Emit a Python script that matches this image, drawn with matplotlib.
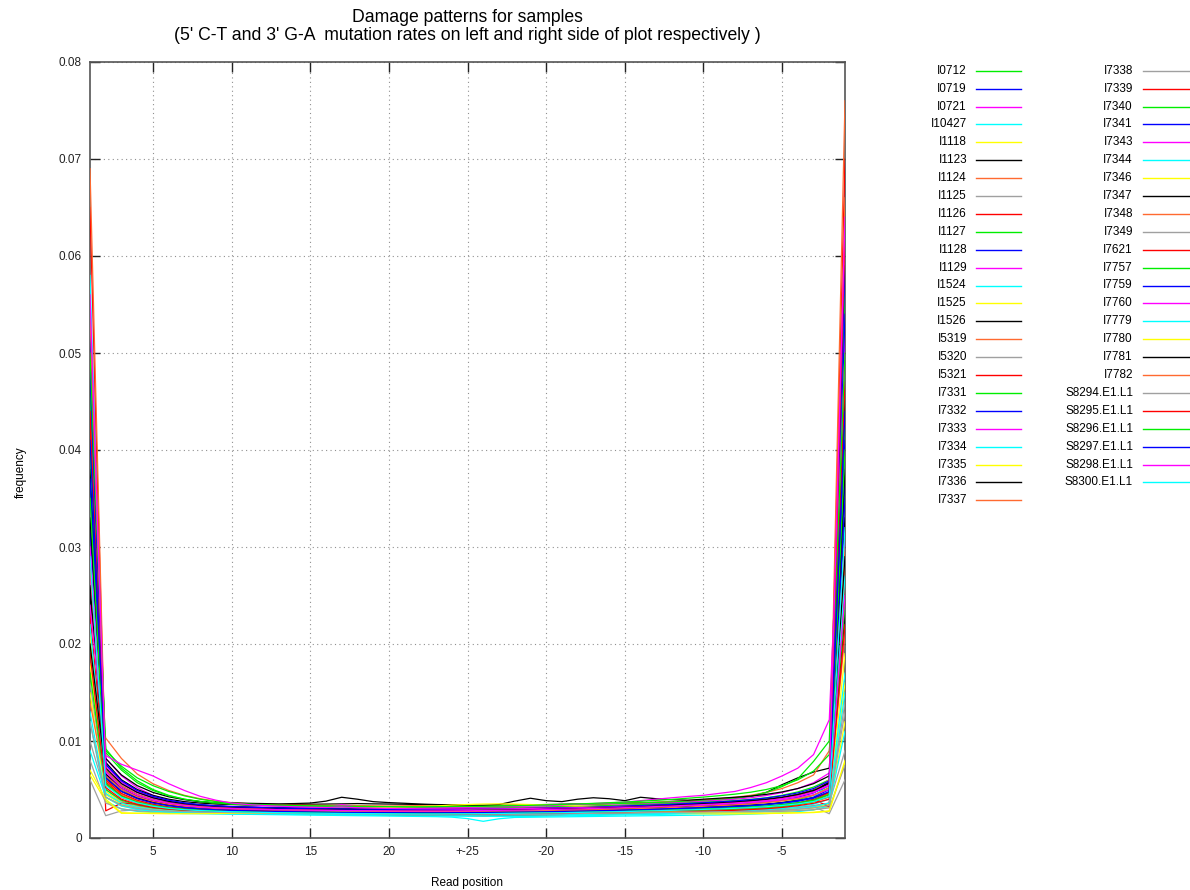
import numpy as np
import matplotlib.pyplot as plt
from matplotlib.lines import Line2D

plt.rcParams['font.family'] = ['Liberation Sans', 'DejaVu Sans']

# frequencies in units of 1e-5
# read positions 1..24 from the 5' end, 25, then -24..-1 from the 3' end
I0712 = [3600, 640, 500, 420, 370, 340, 320, 305, 300,
         298, 295, 290, 292, 288, 290, 286, 291, 289, 287,
         290, 288, 285, 290, 292, 288, 286, 289, 291, 287,
         290, 293, 289, 292, 295, 298, 296, 300, 302, 305, 308,
         315, 322, 330, 345, 365, 395, 440, 520, 4800]
I0719 = [2900, 560, 430, 370, 330, 310, 295, 288, 282,
         280, 278, 276, 279, 275, 277, 274, 278, 276, 273,
         275, 277, 272, 274, 276, 278, 275, 273, 277, 279,
         276, 280, 278, 282, 280, 284, 286, 288, 290, 292, 295,
         300, 305, 312, 325, 340, 360, 390, 450, 3700]
I0721 = [4200, 820, 640, 520, 440, 390, 360, 340, 330,
         325, 322, 318, 320, 316, 318, 322, 330, 318, 315,
         312, 316, 318, 320, 322, 325, 328, 332, 335, 338,
         342, 345, 348, 350, 352, 355, 358, 360, 362, 365, 368,
         372, 378, 386, 398, 415, 440, 480, 560, 5200]
I10427 = [5800, 700, 520, 430, 380, 345, 325, 310, 300,
          296, 292, 288, 285, 282, 280, 278, 275, 272, 270,
          268, 270, 265, 262, 260, 258, 262, 265, 260, 258,
          262, 265, 268, 270, 272, 275, 278, 280, 284, 288, 292,
          298, 305, 312, 325, 345, 375, 420, 560, 6200]
I1118 = [1500, 420, 330, 300, 285, 278, 272, 270, 268,
         270, 268, 272, 269, 271, 274, 276, 278, 280, 282,
         285, 288, 290, 292, 295, 296, 295, 293, 292, 290,
         288, 286, 284, 282, 280, 278, 276, 274, 272, 270, 268,
         268, 268, 270, 272, 275, 280, 290, 320, 1200]
I1123 = [2500, 780, 600, 500, 440, 400, 375, 360, 350,
         345, 340, 338, 342, 345, 348, 350, 352, 355, 352,
         350, 348, 345, 342, 340, 338, 335, 338, 340, 342,
         345, 348, 350, 352, 356, 360, 364, 368, 372, 378, 385,
         395, 410, 430, 470, 550, 620, 680, 720, 3300]
I1124 = [2000, 1030, 820, 660, 560, 490, 440, 405, 380,
         365, 355, 348, 345, 340, 338, 336, 338, 335, 332,
         330, 332, 334, 330, 328, 326, 330, 332, 335, 338,
         340, 342, 345, 348, 352, 356, 362, 368, 375, 385, 395,
         405, 420, 440, 470, 510, 570, 650, 900, 2800]
I1125 = [1000, 450, 360, 320, 300, 290, 285, 280, 278,
         276, 275, 273, 272, 270, 268, 270, 272, 271, 269,
         267, 265, 268, 270, 272, 274, 272, 270, 268, 266,
         265, 267, 269, 271, 273, 275, 277, 279, 281, 283, 285,
         288, 291, 295, 300, 308, 318, 335, 360, 900]
I1126 = [6500, 560, 420, 360, 325, 305, 290, 280, 275,
         272, 270, 268, 265, 262, 260, 258, 262, 264, 260,
         256, 254, 258, 262, 266, 270, 268, 265, 262, 260,
         262, 265, 268, 270, 272, 274, 276, 278, 280, 283, 286,
         290, 295, 302, 312, 328, 350, 385, 450, 7000]
I1127 = [4600, 920, 720, 590, 500, 440, 400, 375, 360,
         352, 345, 340, 336, 332, 330, 328, 326, 325, 324,
         322, 320, 322, 324, 326, 328, 330, 332, 334, 336,
         340, 343, 346, 350, 354, 358, 362, 366, 372, 378, 385,
         395, 410, 430, 470, 530, 610, 790, 1000, 5600]
I1128 = [3200, 640, 500, 420, 370, 340, 320, 308, 300,
         295, 292, 290, 288, 285, 284, 282, 280, 279, 278,
         280, 282, 284, 280, 278, 276, 278, 280, 283, 286,
         288, 290, 293, 296, 300, 304, 308, 312, 318, 324, 330,
         338, 346, 356, 370, 390, 420, 465, 540, 3500]
I1129 = [2700, 700, 560, 470, 410, 370, 345, 330, 320,
         315, 312, 310, 308, 306, 305, 308, 345, 318, 312,
         322, 315, 312, 310, 308, 306, 308, 310, 312, 315,
         318, 322, 326, 330, 335, 340, 346, 352, 360, 368, 378,
         388, 400, 415, 438, 468, 510, 570, 670, 3100]
I1524 = [900, 420, 340, 300, 280, 268, 260, 255, 252,
         250, 248, 246, 245, 243, 242, 240, 238, 236, 235,
         233, 232, 230, 228, 226, 225, 224, 222, 220, 222,
         225, 228, 230, 232, 235, 238, 240, 243, 246, 250, 254,
         258, 262, 268, 275, 285, 298, 315, 340, 1100]
I1525 = [1800, 480, 370, 325, 300, 288, 280, 275, 272,
         270, 272, 274, 276, 278, 280, 282, 284, 286, 288,
         290, 292, 294, 296, 298, 300, 302, 300, 298, 296,
         294, 292, 290, 288, 286, 284, 282, 280, 278, 276, 275,
         275, 276, 278, 282, 288, 296, 310, 335, 1600]
I1526 = [3800, 820, 650, 540, 470, 425, 395, 375, 362,
         362, 358, 355, 352, 355, 360, 380, 420, 400, 375,
         365, 358, 350, 345, 342, 340, 338, 345, 380, 410,
         385, 375, 400, 415, 405, 385, 420, 405, 395, 390, 400,
         410, 420, 432, 450, 475, 510, 560, 640, 4500]
I5319 = [1400, 560, 420, 360, 325, 305, 292, 285, 280,
         276, 274, 272, 270, 268, 266, 265, 264, 262, 260,
         258, 256, 255, 254, 252, 250, 252, 254, 256, 258,
         260, 262, 264, 266, 268, 270, 272, 275, 278, 282, 286,
         290, 295, 302, 312, 326, 345, 372, 420, 2100]
I5320 = [600, 230, 280, 290, 288, 285, 282, 280, 278,
         276, 274, 272, 270, 268, 266, 264, 262, 260, 258,
         256, 255, 254, 256, 258, 260, 262, 264, 266, 268,
         270, 272, 274, 276, 278, 280, 282, 284, 286, 288, 290,
         292, 295, 298, 302, 308, 316, 326, 250, 600]
I5321 = [2300, 580, 440, 375, 335, 310, 295, 285, 278,
         272, 268, 265, 262, 260, 258, 256, 254, 252, 250,
         248, 246, 245, 244, 243, 242, 244, 246, 248, 250,
         252, 254, 256, 258, 260, 262, 264, 266, 268, 270, 272,
         275, 278, 282, 288, 296, 308, 325, 355, 2600]
I7331 = [4000, 880, 700, 570, 490, 435, 400, 378, 362,
         350, 342, 336, 332, 328, 325, 322, 320, 318, 316,
         315, 314, 313, 312, 311, 310, 312, 314, 316, 318,
         320, 323, 326, 330, 334, 338, 343, 348, 354, 360, 368,
         376, 386, 398, 415, 440, 475, 525, 600, 4300]
I7332 = [5200, 760, 580, 480, 420, 380, 355, 340, 330,
         322, 318, 315, 312, 310, 308, 306, 304, 302, 300,
         298, 296, 295, 294, 293, 292, 294, 296, 298, 300,
         302, 304, 306, 309, 312, 316, 320, 325, 330, 336, 342,
         350, 360, 372, 388, 410, 440, 485, 580, 5900]
I7333 = [3400, 740, 580, 480, 420, 380, 355, 338, 326,
         318, 312, 308, 305, 302, 300, 298, 296, 294, 292,
         290, 292, 294, 296, 298, 300, 302, 304, 306, 308,
         310, 313, 316, 320, 324, 328, 333, 338, 344, 350, 357,
         364, 372, 382, 396, 415, 440, 475, 540, 3900]
I7334 = [1200, 380, 300, 275, 262, 256, 252, 250, 248,
         246, 244, 242, 240, 238, 236, 234, 232, 230, 228,
         226, 224, 222, 220, 215, 200, 172, 198, 212, 214,
         216, 218, 220, 222, 224, 226, 228, 230, 232, 234, 236,
         238, 242, 246, 252, 260, 272, 290, 330, 1500]
I7335 = [2100, 450, 350, 310, 292, 282, 276, 272, 270,
         268, 270, 275, 280, 285, 290, 295, 300, 305, 310,
         315, 320, 325, 330, 340, 345, 350, 352, 350, 345,
         340, 335, 330, 325, 320, 315, 310, 305, 300, 296, 292,
         290, 290, 292, 295, 300, 308, 320, 345, 1900]
I7336 = [2600, 620, 480, 410, 370, 345, 330, 320, 312,
         306, 302, 298, 295, 292, 290, 288, 286, 284, 283,
         282, 281, 280, 280, 281, 282, 284, 286, 288, 290,
         292, 294, 296, 298, 300, 303, 306, 310, 314, 318, 322,
         327, 333, 340, 350, 365, 385, 415, 470, 2300]
I7337 = [6900, 600, 450, 380, 340, 315, 300, 290, 284,
         280, 276, 272, 270, 268, 266, 264, 262, 260, 258,
         256, 255, 254, 253, 252, 251, 252, 253, 254, 256,
         258, 260, 262, 264, 266, 268, 270, 273, 276, 280, 284,
         288, 293, 300, 310, 325, 345, 380, 460, 7600]
I7338 = [1600, 500, 380, 330, 305, 292, 285, 280, 276,
         274, 272, 270, 268, 266, 265, 264, 263, 262, 261,
         260, 259, 258, 257, 256, 255, 256, 257, 258, 259,
         260, 262, 264, 266, 268, 270, 272, 274, 276, 278, 280,
         283, 286, 290, 296, 304, 315, 330, 360, 1300]
I7339 = [4400, 280, 360, 350, 330, 315, 305, 298, 292,
         288, 285, 282, 280, 278, 276, 274, 272, 270, 268,
         266, 265, 264, 263, 262, 262, 263, 264, 265, 266,
         268, 270, 272, 274, 276, 278, 280, 283, 286, 290, 294,
         298, 303, 310, 320, 335, 355, 400, 320, 4700]
I7340 = [1700, 500, 390, 340, 312, 296, 286, 280, 276,
         272, 270, 268, 266, 265, 264, 263, 262, 261, 260,
         259, 258, 257, 256, 255, 255, 256, 257, 258, 260,
         262, 264, 266, 268, 270, 272, 275, 278, 281, 284, 288,
         292, 297, 303, 312, 325, 345, 375, 430, 2400]
I7341 = [4800, 700, 540, 450, 395, 360, 338, 322, 312,
         305, 300, 296, 293, 290, 288, 286, 284, 282, 280,
         279, 278, 277, 276, 275, 275, 276, 277, 278, 280,
         282, 284, 286, 288, 291, 294, 297, 300, 304, 308, 313,
         318, 325, 334, 346, 362, 385, 420, 500, 5400]
I7343 = [3000, 660, 520, 440, 390, 358, 338, 325, 316,
         310, 306, 303, 300, 298, 297, 296, 298, 300, 302,
         304, 306, 308, 310, 313, 316, 319, 322, 326, 330,
         334, 340, 348, 355, 362, 370, 385, 400, 415, 428, 440,
         460, 480, 520, 570, 640, 720, 860, 1220, 5000]
I7344 = [2200, 460, 360, 315, 292, 278, 270, 264, 260,
         256, 253, 250, 248, 246, 244, 242, 240, 238, 236,
         234, 232, 230, 229, 228, 228, 229, 230, 232, 234,
         236, 238, 240, 243, 246, 249, 252, 256, 260, 264, 268,
         272, 277, 283, 292, 305, 322, 348, 400, 2700]
I7346 = [650, 380, 255, 255, 258, 260, 260, 258, 256,
         255, 256, 258, 260, 262, 264, 266, 268, 270, 272,
         274, 276, 278, 280, 282, 280, 278, 276, 274, 272,
         270, 268, 266, 264, 262, 260, 258, 256, 254, 252, 250,
         248, 248, 250, 252, 255, 260, 262, 275, 780]
I7347 = [3300, 720, 560, 470, 415, 378, 355, 340, 330,
         322, 316, 312, 308, 305, 303, 301, 300, 299, 298,
         297, 296, 296, 296, 297, 298, 299, 300, 302, 304,
         306, 309, 312, 316, 320, 325, 330, 336, 342, 349, 356,
         364, 373, 385, 400, 420, 450, 495, 570, 3800]
I7348 = [2800, 640, 500, 425, 378, 348, 328, 315, 306,
         300, 296, 292, 289, 286, 284, 282, 280, 278, 277,
         276, 275, 274, 274, 275, 276, 278, 280, 282, 285,
         288, 291, 295, 299, 304, 309, 315, 321, 328, 336, 344,
         352, 362, 375, 392, 415, 445, 490, 600, 3000]
I7349 = [800, 360, 300, 280, 272, 268, 265, 263, 262,
         261, 260, 259, 258, 257, 256, 255, 254, 253, 252,
         251, 250, 249, 248, 247, 246, 247, 248, 249, 250,
         251, 252, 253, 254, 255, 256, 257, 258, 259, 260, 261,
         262, 264, 266, 270, 275, 282, 292, 310, 750]
I7621 = [1900, 520, 400, 345, 315, 298, 287, 280, 275,
         270, 266, 262, 258, 255, 252, 250, 248, 246, 244,
         242, 240, 238, 236, 234, 233, 232, 234, 236, 238,
         240, 242, 245, 248, 251, 254, 258, 262, 266, 270, 275,
         280, 286, 293, 302, 315, 333, 358, 400, 2200]
I7757 = [5000, 900, 740, 620, 540, 480, 435, 400, 375,
         360, 350, 343, 338, 334, 331, 329, 327, 325, 324,
         323, 322, 322, 323, 324, 325, 327, 330, 333, 337,
         341, 346, 351, 357, 364, 371, 379, 388, 398, 410, 422,
         436, 452, 472, 500, 540, 600, 690, 860, 5000]
I7759 = [3700, 760, 590, 490, 430, 390, 362, 344, 332,
         324, 318, 313, 309, 306, 303, 301, 299, 297, 296,
         295, 294, 293, 293, 294, 295, 297, 299, 301, 304,
         307, 310, 314, 318, 323, 328, 334, 340, 347, 355, 363,
         372, 382, 395, 412, 435, 465, 510, 590, 4100]
I7760 = [2400, 850, 760, 700, 640, 560, 490, 430, 390,
         360, 345, 335, 328, 322, 318, 315, 320, 312, 308,
         305, 303, 301, 300, 299, 298, 299, 300, 302, 304,
         306, 308, 311, 314, 317, 320, 324, 328, 332, 337, 342,
         348, 355, 364, 376, 392, 414, 447, 500, 2500]
I7779 = [1300, 420, 330, 295, 278, 268, 262, 258, 255,
         252, 250, 248, 246, 245, 244, 243, 242, 241, 240,
         239, 238, 237, 236, 235, 234, 235, 236, 237, 238,
         239, 240, 242, 244, 246, 248, 250, 252, 255, 258, 261,
         264, 268, 273, 280, 290, 303, 322, 360, 1700]
I7780 = [700, 400, 260, 255, 252, 250, 250, 251, 252,
         254, 256, 258, 260, 262, 264, 266, 268, 270, 272,
         274, 276, 278, 280, 282, 284, 285, 286, 285, 284,
         282, 280, 278, 276, 274, 272, 270, 268, 266, 264, 262,
         260, 258, 256, 256, 257, 260, 265, 280, 800]
I7781 = [2000, 660, 520, 440, 390, 360, 340, 326, 316,
         308, 302, 298, 294, 291, 289, 287, 285, 284, 283,
         282, 281, 281, 281, 282, 283, 285, 287, 289, 292,
         295, 298, 302, 306, 311, 316, 322, 328, 335, 342, 350,
         358, 368, 380, 396, 418, 448, 490, 560, 2900]
I7782 = [5400, 700, 540, 450, 395, 360, 338, 322, 312,
         305, 300, 296, 292, 289, 286, 284, 282, 280, 278,
         276, 275, 274, 273, 272, 272, 273, 274, 276, 278,
         280, 283, 286, 290, 294, 298, 303, 308, 314, 320, 327,
         334, 342, 352, 365, 382, 405, 440, 520, 6600]
S8294_E1_L1 = [1200, 420, 340, 305, 288, 278, 272, 268, 265,
               262, 260, 258, 256, 254, 252, 251, 250, 249, 248,
               247, 246, 245, 244, 243, 242, 243, 244, 245, 246,
               248, 250, 252, 254, 256, 258, 260, 262, 264, 266, 268,
               270, 272, 275, 280, 287, 296, 310, 335, 1400]
S8295_E1_L1 = [4300, 600, 460, 390, 348, 320, 302, 290, 282,
               276, 272, 268, 266, 264, 262, 260, 258, 256, 255,
               254, 253, 252, 251, 250, 250, 251, 252, 254, 256,
               258, 260, 263, 266, 269, 272, 276, 280, 284, 289, 294,
               299, 305, 313, 324, 340, 362, 395, 470, 6200]
S8296_E1_L1 = [3500, 560, 430, 370, 335, 312, 298, 288, 281,
               276, 272, 269, 266, 264, 262, 260, 259, 258, 257,
               256, 255, 255, 255, 256, 257, 258, 260, 262, 264,
               266, 268, 271, 274, 277, 280, 284, 288, 292, 297, 302,
               307, 313, 320, 330, 344, 363, 390, 450, 4000]
S8297_E1_L1 = [4100, 620, 480, 405, 360, 332, 313, 300, 291,
               285, 281, 277, 274, 271, 269, 267, 265, 264, 263,
               262, 261, 260, 260, 261, 262, 263, 265, 267, 269,
               271, 274, 277, 280, 284, 288, 292, 297, 302, 307, 313,
               319, 326, 334, 345, 360, 380, 410, 480, 4400]
S8298_E1_L1 = [5600, 680, 520, 440, 390, 358, 336, 321, 311,
               304, 299, 295, 292, 289, 287, 285, 283, 282, 281,
               280, 279, 279, 279, 280, 281, 283, 285, 287, 290,
               293, 296, 300, 304, 308, 313, 318, 324, 330, 337, 344,
               352, 361, 372, 386, 405, 430, 468, 550, 6400]
S8300_E1_L1 = [2900, 540, 420, 362, 328, 306, 292, 283, 276,
               271, 267, 264, 261, 259, 257, 255, 253, 252, 251,
               250, 249, 248, 248, 249, 250, 251, 253, 255, 257,
               259, 261, 264, 267, 270, 273, 277, 281, 285, 290, 295,
               300, 306, 313, 322, 335, 352, 376, 430, 3200]

samples = ["I0712", "I0719", "I0721", "I10427", "I1118", "I1123", "I1124",
           "I1125", "I1126", "I1127", "I1128", "I1129", "I1524", "I1525",
           "I1526", "I5319", "I5320", "I5321", "I7331", "I7332", "I7333",
           "I7334", "I7335", "I7336", "I7337", "I7338", "I7339", "I7340",
           "I7341", "I7343", "I7344", "I7346", "I7347", "I7348", "I7349",
           "I7621", "I7757", "I7759", "I7760", "I7779", "I7780", "I7781",
           "I7782", "S8294.E1.L1", "S8295.E1.L1", "S8296.E1.L1",
           "S8297.E1.L1", "S8298.E1.L1", "S8300.E1.L1"]
series = [I0712, I0719, I0721, I10427, I1118, I1123, I1124, I1125, I1126,
          I1127, I1128, I1129, I1524, I1525, I1526, I5319, I5320, I5321,
          I7331, I7332, I7333, I7334, I7335, I7336, I7337, I7338, I7339,
          I7340, I7341, I7343, I7344, I7346, I7347, I7348, I7349, I7621,
          I7757, I7759, I7760, I7779, I7780, I7781, I7782, S8294_E1_L1,
          S8295_E1_L1, S8296_E1_L1, S8297_E1_L1, S8298_E1_L1, S8300_E1_L1]

tick_pos = [5, 10, 15, 20, 25, 30, 35, 40, 45]
tick_labels = ["5", "10", "15", "20", "+-25", "-20", "-15", "-10", "-5"]

palette = ["#00ee00", "#0000ff", "#ff00ff", "#00ffff", "#ffff00",
           "#000000", "#ff6a30", "#a0a0a0", "#ff0000"]

fig = plt.figure(figsize=(11.9, 8.9), dpi=100)
ax = fig.add_axes([90 / 1190, 52 / 890, 755 / 1190, 776 / 890])

for i, vals in enumerate(series):
    y = np.array(vals) * 1e-5
    x = np.arange(1, len(y) + 1)
    ax.plot(x, y, color=palette[i % len(palette)], lw=0.9, zorder=3)

ax.set_xlim(1, 49)
ax.set_ylim(0, 0.08)
ax.set_xticks(tick_pos)
ax.set_xticklabels(tick_labels)
ax.set_yticks(np.arange(0, 0.081, 0.01))
ax.set_yticklabels(["0"] + ["%.2f" % v for v in np.arange(0.01, 0.081, 0.01)])
ax.grid(True, ls=(0, (1, 3)), color="#909090", lw=0.8)
ax.tick_params(direction="in", length=7, width=1.0, top=True, right=True,
               labelsize=8.5, pad=6, colors="#222222")
for s in ax.spines.values():
    s.set_color("#555555")
    s.set_linewidth(1.2)

ax.set_xlabel("Read position", fontsize=8.5)
ax.xaxis.set_label_coords(0.5, -0.050)
ax.set_ylabel("frequency", fontsize=8.5)
ax.yaxis.set_label_coords(-0.084, 0.472)

fig.text(467.5 / 1190, 1 - 17 / 890, "Damage patterns for samples",
         ha="center", va="center", fontsize=12.7)
fig.text(467.5 / 1190, 1 - 35 / 890,
         "(5' C-T and 3' G-A  mutation rates on left and right side of plot respectively )",
         ha="center", va="center", fontsize=12.7)

# legend in two columns, label right-aligned before the line sample
col_text_x = [967, 1133]
col_line_x = [(976, 1021), (1143, 1189)]
for i, name in enumerate(samples):
    col, row = divmod(i, 25)
    ypix = 70.7 + 17.9 * row
    yf = 1 - ypix / 890
    fig.text(col_text_x[col] / 1190, yf, name, ha="right", va="center",
             fontsize=8.5)
    x0, x1 = col_line_x[col]
    fig.add_artist(Line2D([x0 / 1190, x1 / 1190], [yf, yf],
                          transform=fig.transFigure, lw=1.0,
                          color=palette[i % len(palette)]))

fig.savefig("out.png", dpi=100)
